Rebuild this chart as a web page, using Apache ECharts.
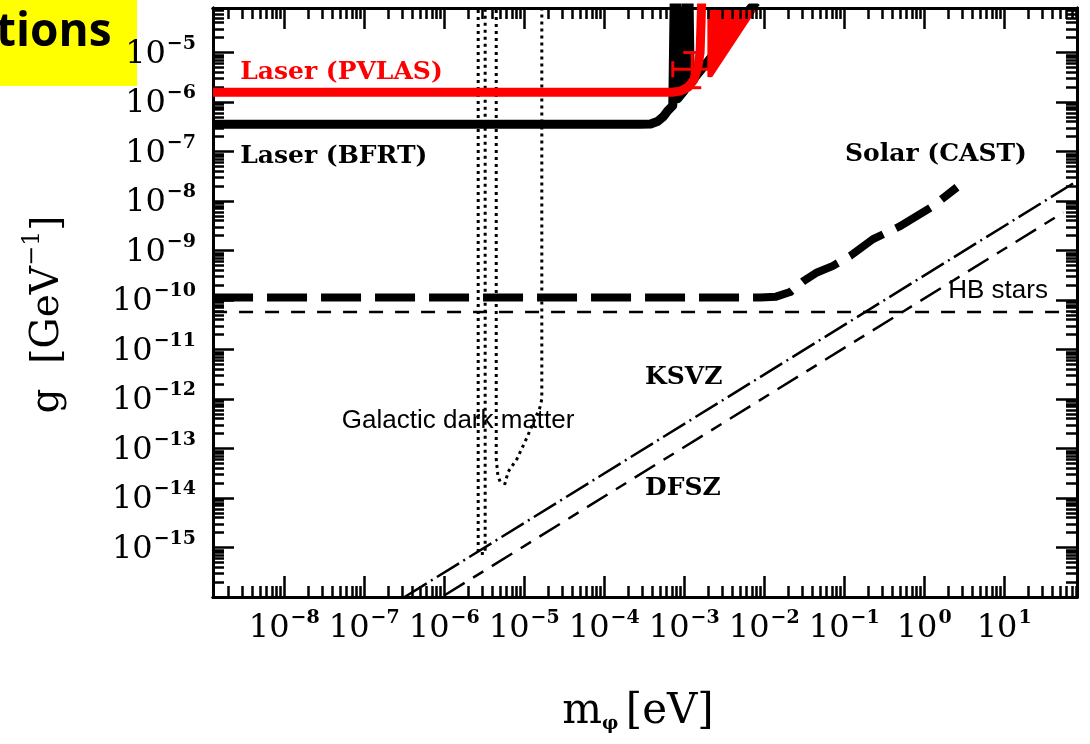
<!DOCTYPE html>
<html>
<head>
<meta charset="utf-8">
<script src="https://cdn.jsdelivr.net/npm/echarts@6/dist/echarts.min.js"></script>
<style>
  html, body { margin: 0; padding: 0; background: #ffffff; }
  #chart { width: 1090px; height: 744px; }
</style>
</head>
<body>
<div id="chart"></div>
<script>
// Axion / ALP photon coupling g [GeV^-1] against mass m [eV], both on log scales.

// Decade exponents that carry labels on each axis
const massDecades = [-8, -7, -6, -5, -4, -3, -2, -1, 0, 1];
const couplingDecades = [-15, -14, -13, -12, -11, -10, -9, -8, -7, -6, -5];

// Laser (PVLAS) exclusion curve
const pvlasMass     = [1.29e-9, 7.1e-4, 8.9e-4, 1.12e-3, 1.32e-3, 1.48e-3, 1.58e-3, 1.66e-3];
const pvlasCoupling = [1.58e-6, 1.58e-6, 1.66e-6, 2.0e-6, 2.8e-6, 5.0e-6, 1.0e-5, 1.3e-4];

// Laser (PVLAS) oscillation band at high mass (polygon outline)
const pvlasBandMass     = [1.95e-3, 8.3e-3, 2.24e-3, 1.95e-3];
const pvlasBandCoupling = [7.94e-5, 7.94e-5, 3.2e-6, 3.2e-6];

// PVLAS signal point with its error bars
const pvlasSignal = { mass: 1.26e-3, massLow: 7.2e-4, massHigh: 2.1e-3,
                      coupling: 4.6e-6, couplingLow: 1.95e-6, couplingHigh: 1.0e-5 };

// Laser (BFRT) exclusion curve
const bfrtMass     = [1.29e-9, 2.8e-4, 3.8e-4, 4.7e-4, 5.5e-4, 6.3e-4, 7.2e-4,
                      7.5e-4, 8.0e-4, 8.3e-4, 1.0e-3, 1.05e-3, 1.15e-3, 1.19e-3, 6.8e-3, 8.0e-3];
const bfrtCoupling = [3.55e-7, 3.55e-7, 3.6e-7, 4.1e-7, 5.1e-7, 6.8e-7, 8.5e-7,
                      1.26e-4, 1.26e-4, 1.17e-6, 1.7e-6, 1.26e-4, 1.26e-4, 2.4e-6, 7.9e-5, 1.05e-4];

// Solar (CAST) helioscope limit
const castMass     = [1.29e-9, 8.9e-3, 1.41e-2, 2.11e-2, 3.09e-2, 4.57e-2, 7.24e-2, 0.119, 0.229, 0.501, 1.29, 2.57];
const castCoupling = [1.12e-10, 1.12e-10, 1.17e-10, 1.45e-10, 2.4e-10, 3.6e-10, 4.9e-10, 7.8e-10, 1.7e-9, 3.1e-9, 7.9e-9, 1.9e-8];

// Horizontal-branch stars bound
const hbMass     = [1.29e-9, 81];
const hbCoupling = [5.75e-11, 5.75e-11];

// QCD axion model lines
const ksvzMass     = [3.2e-7, 80];
const ksvzCoupling = [1.0e-16, 2.5e-8];
const dfszMass     = [1.0e-6, 55];
const dfszCoupling = [1.07e-16, 5.9e-9];

// Galactic dark matter (microwave cavity) outlines
const cavityAMass     = [2.66e-6, 2.66e-6, 3.25e-6, 3.25e-6];
const cavityACoupling = [1e-4, 7.6e-16, 7.6e-16, 1e-4];
const cavityBMass     = [4.47e-6, 4.47e-6, 4.68e-6, 5.01e-6, 5.75e-6, 6.31e-6, 8.13e-6, 1.07e-5, 1.58e-5, 1.66e-5, 1.66e-5];
const cavityBCoupling = [1e-4, 6.2e-14, 2.9e-14, 2.1e-14, 1.95e-14, 3.4e-14, 6.2e-14, 1.6e-13, 6.9e-13, 1.0e-12, 1e-4];

// Annotation texts
const labelTexts = ['Laser (PVLAS)', 'Laser (BFRT)', 'Solar (CAST)', 'KSVZ', 'DFSZ', 'HB stars', 'Galactic dark matter'];

// ---- helpers ----
const lg = Math.log10;
const toLog = (xs, ys) => xs.map((x, i) => [lg(x), lg(ys[i])]);

const X_MIN = -8.89, X_MAX = 1.91;
const Y_MIN = -16, Y_MAX = -4.1;

function minorTicks(lo, hi) {
  const out = [];
  for (let d = Math.floor(lo) - 1; d <= Math.ceil(hi); d++) {
    for (let k = 2; k <= 9; k++) {
      const v = d + lg(k);
      if (v > lo && v < hi) out.push(v);
    }
  }
  return out;
}
const minorX = minorTicks(X_MIN, X_MAX);
const minorY = minorTicks(Y_MIN, Y_MAX);

const expText = v => (v < 0 ? '\u2212' + (-v) : String(v));
const powerLabel = v => '{b|10}{s|' + expText(Math.round(v)) + '}';

const serif = '"DejaVu Serif", "Liberation Serif", serif';
const labelRich = {
  b: { fontFamily: serif, fontSize: 32, color: '#000', lineHeight: 36, verticalAlign: 'bottom' },
  s: { fontFamily: serif, fontSize: 19, fontWeight: 'bold', color: '#000', lineHeight: 36, verticalAlign: 'top', padding: [0, 0, 0, 1] }
};

const frameLine = { show: true, onZero: false, lineStyle: { color: '#000', width: 3 } };
const tickStyle = { color: '#000', width: 2.5 };

function xAxisDef(grid, pos, ticks, len, withLabels) {
  return {
    type: 'value', gridIndex: grid, position: pos, min: X_MIN, max: X_MAX,
    axisLine: frameLine,
    axisTick: { show: true, inside: true, length: len, customValues: ticks, lineStyle: tickStyle },
    axisLabel: withLabels
      ? { show: true, customValues: massDecades, formatter: powerLabel, margin: 12, rich: labelRich }
      : { show: false },
    splitLine: { show: false }, z: 5
  };
}
function yAxisDef(grid, pos, ticks, len, withLabels) {
  return {
    type: 'value', gridIndex: grid, position: pos, min: Y_MIN, max: Y_MAX,
    axisLine: frameLine,
    axisTick: { show: true, inside: true, length: len, customValues: ticks, lineStyle: tickStyle },
    axisLabel: withLabels
      ? { show: true, customValues: couplingDecades, formatter: powerLabel, margin: 17, rich: labelRich }
      : { show: false },
    splitLine: { show: false }, z: 5
  };
}

const xAxes = [
  xAxisDef(0, 'bottom', massDecades, 21, true),
  xAxisDef(0, 'top', massDecades, 21, false),
  xAxisDef(1, 'bottom', minorX, 11, false),
  xAxisDef(1, 'top', minorX, 11, false)
];
Object.assign(xAxes[0], {
  name: '{m|m}{p|\u03c6} {m|[eV]}', nameLocation: 'middle', nameGap: 88,
  nameTextStyle: { padding: [0, 14, 0, 0], rich: {
    m: { fontFamily: serif, fontSize: 42, color: '#000', lineHeight: 48, verticalAlign: 'bottom' },
    p: { fontFamily: serif, fontSize: 18, fontWeight: 'bold', color: '#000', lineHeight: 40, verticalAlign: 'bottom', padding: [0, 4, 0, 0] }
  } }
});

const yAxes = [
  yAxisDef(0, 'left', couplingDecades, 21, true),
  yAxisDef(0, 'right', couplingDecades, 21, false),
  yAxisDef(1, 'left', minorY, 11, false),
  yAxisDef(1, 'right', minorY, 11, false)
];
Object.assign(yAxes[0], {
  name: '{m|g  [GeV}{s|\u22121}{m|]}', nameLocation: 'middle', nameGap: 146, nameRotate: 90,
  nameTextStyle: { padding: [0, 24, 0, 0], rich: {
    m: { fontFamily: serif, fontSize: 39, color: '#000', lineHeight: 46, verticalAlign: 'bottom' },
    s: { fontFamily: serif, fontSize: 24, color: '#000', lineHeight: 46, verticalAlign: 'top' }
  } }
});

function lineSeries(name, xs, ys, style, z) {
  return {
    name, type: 'line', xAxisIndex: 0, yAxisIndex: 0,
    data: toLog(xs, ys), showSymbol: false, symbol: 'none', silent: true,
    lineStyle: Object.assign({ color: '#000', cap: 'butt', join: 'round' }, style),
    z: z || 2, clip: true, animation: false
  };
}

const bandPoints = toLog(pvlasBandMass, pvlasBandCoupling);

// Annotation anchors in (log m, log g): left edge, vertical middle of each text
const labelAnchors = [[-8.55, -5.40], [-8.55, -7.10], [-0.99, -7.06], [-3.49, -11.57],
                      [-3.49, -13.81], [0.30, -9.82], [-7.28, -12.44]];
const boldLabel = { fontFamily: serif, fontWeight: 'bold', fontSize: 25, color: '#000000', opacity: 1 };
const plainLabel = { fontFamily: '"Liberation Sans", Arial, sans-serif', fontSize: 26, color: '#000000', opacity: 1 };
const labelStyles = [
  Object.assign({}, boldLabel, { color: '#ff0000' }), boldLabel, boldLabel, boldLabel, boldLabel, plainLabel, plainLabel
];

const option = {
  animation: false,
  backgroundColor: '#ffffff',
  grid: [
    { left: 213, top: 8, right: 13, bottom: 147, containLabel: false },
    { left: 213, top: 8, right: 13, bottom: 147, containLabel: false }
  ],
  xAxis: xAxes,
  yAxis: yAxes,
  graphic: [
    { type: 'rect', shape: { x: 0, y: 0, width: 137, height: 86 }, style: { fill: '#ffff00' }, z: -10 },
    { type: 'text', x: -4, y: 56, z: -9,
      style: { text: 'tions', fill: '#000', fontFamily: '"Open Sans", sans-serif', fontWeight: 'bold', fontSize: 46, verticalAlign: 'bottom' } }
  ],
  series: [
    lineSeries('Galactic dark matter A', cavityAMass, cavityACoupling, { width: 3, type: [3, 4] }, 1),
    lineSeries('Galactic dark matter B', cavityBMass, cavityBCoupling, { width: 3, type: [3, 4] }, 1),
    lineSeries('HB stars', hbMass, hbCoupling, { width: 2.5, type: [14, 12] }, 2),
    lineSeries('KSVZ', ksvzMass, ksvzCoupling, { width: 2.5, type: [26, 5, 2, 5] }, 2),
    lineSeries('DFSZ', dfszMass, dfszCoupling, { width: 2.5, type: [24, 10, 12, 10] }, 2),
    lineSeries('Solar (CAST)', castMass, castCoupling, { width: 8, type: [40, 14] }, 3),
    lineSeries('Laser (BFRT)', bfrtMass, bfrtCoupling, { width: 9 }, 4),
    lineSeries('Laser (PVLAS)', pvlasMass, pvlasCoupling, { width: 9, color: '#ff0000' }, 5),
    {
      name: 'PVLAS band', type: 'custom', xAxisIndex: 0, yAxisIndex: 0, silent: true, z: 5,
      data: [bandPoints[0]],
      renderItem: (params, api) => ({
        type: 'polygon',
        shape: { points: bandPoints.map(p => api.coord(p)) },
        style: { fill: '#ff0000' }
      })
    },
    {
      name: 'PVLAS signal', type: 'custom', xAxisIndex: 0, yAxisIndex: 0, silent: true, z: 6,
      data: [[lg(pvlasSignal.mass), lg(pvlasSignal.coupling), lg(pvlasSignal.massLow),
              lg(pvlasSignal.massHigh), lg(pvlasSignal.couplingLow), lg(pvlasSignal.couplingHigh)]],
      renderItem: (params, api) => {
        const c = api.coord([api.value(0), api.value(1)]);
        const l = api.coord([api.value(2), api.value(1)]);
        const r = api.coord([api.value(3), api.value(1)]);
        const b = api.coord([api.value(0), api.value(4)]);
        const t = api.coord([api.value(0), api.value(5)]);
        const st = { stroke: '#ff0000', lineWidth: 3 };
        const seg = (x1, y1, x2, y2) => ({ type: 'line', shape: { x1, y1, x2, y2 }, style: st });
        return { type: 'group', children: [
          seg(l[0], c[1], r[0], c[1]),
          seg(c[0], t[1], c[0], b[1]),
          seg(l[0], c[1] - 8, l[0], c[1] + 8),
          seg(r[0], c[1] - 8, r[0], c[1] + 8),
          seg(c[0] - 9, t[1], c[0] + 9, t[1]),
          seg(c[0] - 9, b[1], c[0] + 9, b[1])
        ] };
      }
    },
    {
      name: 'annotations', type: 'scatter', xAxisIndex: 0, yAxisIndex: 0, silent: true, z: 8,
      symbolSize: 0, itemStyle: { opacity: 1 },
      data: labelTexts.map((txt, i) => ({
        value: [labelAnchors[i][0], labelAnchors[i][1], txt],
        label: Object.assign({ show: true, position: 'right', distance: 0, formatter: p => p.value[2] }, labelStyles[i])
      }))
    }
  ]
};

const chart = echarts.init(document.getElementById('chart'), null, { renderer: 'canvas' });
chart.setOption(option);
</script>
</body>
</html>
